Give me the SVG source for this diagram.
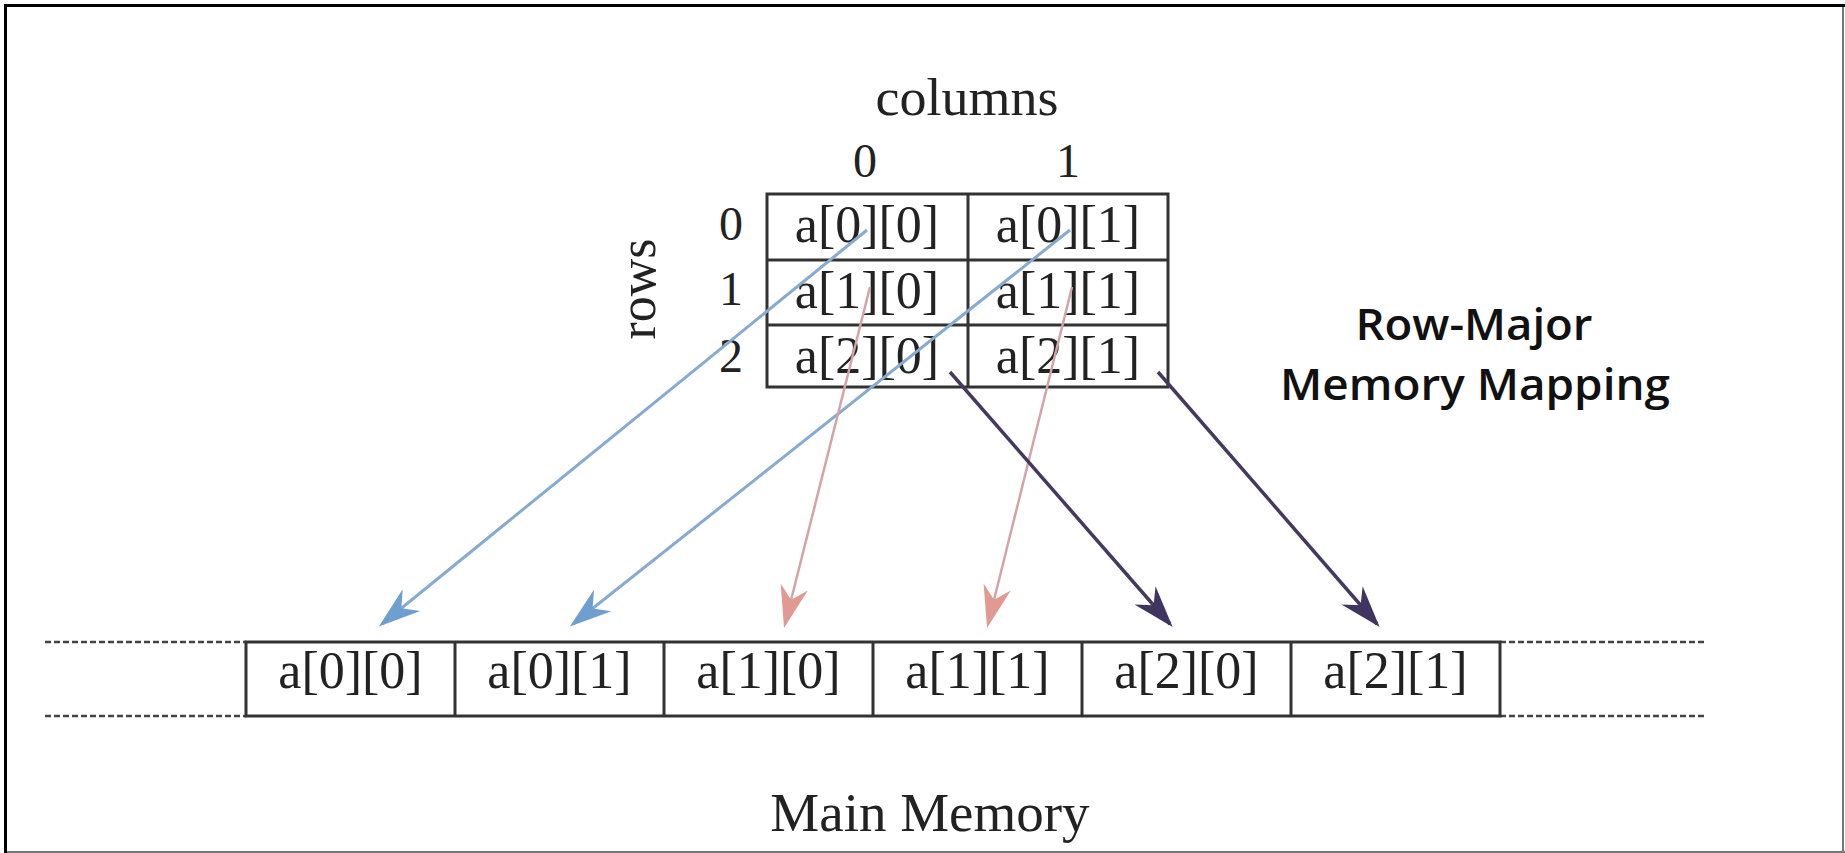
<svg xmlns="http://www.w3.org/2000/svg" width="1845" height="853" viewBox="0 0 1845 853">
<style>
.serif{font-family:"Liberation Serif","Times New Roman",serif;fill:#222;text-anchor:middle}
.cell{font-size:52px}
.hdr{font-size:48px}
.bold{font-family:"Open Sans","Liberation Sans",sans-serif;font-weight:600;font-size:43px;fill:#111;text-anchor:middle}
.grid{fill:none;stroke:#333;stroke-width:3}
.dash{stroke:#444;stroke-width:2.5;stroke-dasharray:6 3}
.blue{stroke:#86aad0;stroke-width:3;fill:none}
.pink{stroke:#d4a3a8;stroke-width:2.5;fill:none}
.purple{stroke:#45395f;stroke-width:3.5;fill:none}
</style>
<defs>
<marker id="mBlue" markerUnits="userSpaceOnUse" markerWidth="42" markerHeight="32" viewBox="0 0 42 32" refX="38" refY="16" orient="auto"><path d="M0,2 L42,16 L0,30 L13,16 Z" fill="#6f9fd0"/></marker>
<marker id="mPink" markerUnits="userSpaceOnUse" markerWidth="42" markerHeight="32" viewBox="0 0 42 32" refX="38" refY="16" orient="auto"><path d="M0,2 L42,16 L0,30 L13,16 Z" fill="#e09a92"/></marker>
<marker id="mPurple" markerUnits="userSpaceOnUse" markerWidth="42" markerHeight="32" viewBox="0 0 42 32" refX="38" refY="16" orient="auto"><path d="M0,2 L42,16 L0,30 L13,16 Z" fill="#3f3560"/></marker>
</defs>
<rect width="1845" height="853" fill="#fff"/>
<g id="frame">
<line x1="4" y1="5.5" x2="1845" y2="5.5" stroke="#000" stroke-width="3"/>
<line x1="5.5" y1="4" x2="5.5" y2="853" stroke="#000" stroke-width="3"/>
<line x1="1843" y1="7" x2="1843" y2="853" stroke="#777" stroke-width="2"/>
<line x1="7" y1="852" x2="1845" y2="852" stroke="#777" stroke-width="2"/>
</g>
<g id="labels">
<text class="serif" x="967" y="115" font-size="52" textLength="183" lengthAdjust="spacingAndGlyphs">columns</text>
<text class="serif hdr" x="865" y="177">0</text>
<text class="serif hdr" x="1068" y="177">1</text>
<text class="serif hdr" x="731" y="240">0</text>
<text class="serif hdr" x="731" y="305">1</text>
<text class="serif hdr" x="731" y="372">2</text>
<text class="serif" font-size="52" transform="translate(655,289) rotate(-90)">rows</text>
<text class="bold" x="1474" y="340" textLength="237" lengthAdjust="spacingAndGlyphs">Row-Major</text>
<text class="bold" x="1475" y="400" textLength="390" lengthAdjust="spacingAndGlyphs">Memory Mapping</text>
<text class="serif" x="930" y="831" font-size="55">Main Memory</text>
</g>
<g id="matrix">
<rect class="grid" x="767" y="194" width="401" height="193"/>
<line class="grid" x1="968" y1="194" x2="968" y2="387"/>
<line class="grid" x1="767" y1="260" x2="1168" y2="260"/>
<line class="grid" x1="767" y1="325" x2="1168" y2="325"/>
<g id="m00"><text class="serif cell" x="867" y="242">a[0][0]</text></g>
<g id="m01"><text class="serif cell" x="1068" y="242">a[0][1]</text></g>
<g id="m10"><text class="serif cell" x="867" y="308">a[1][0]</text></g>
<g id="m11"><text class="serif cell" x="1068" y="308">a[1][1]</text></g>
<g id="m20"><text class="serif cell" x="867" y="373">a[2][0]</text></g>
<g id="m21"><text class="serif cell" x="1068" y="373">a[2][1]</text></g>
</g>
<g id="memory">
<line class="dash" x1="45" y1="642" x2="246" y2="642"/>
<line class="dash" x1="45" y1="716" x2="246" y2="716"/>
<line class="dash" x1="1500" y1="642" x2="1706" y2="642"/>
<line class="dash" x1="1500" y1="716" x2="1706" y2="716"/>
<rect class="grid" x="246" y="642" width="1254" height="74" stroke-width="3.5"/>
<line class="grid" x1="455" y1="642" x2="455" y2="716"/>
<line class="grid" x1="664" y1="642" x2="664" y2="716"/>
<line class="grid" x1="873" y1="642" x2="873" y2="716"/>
<line class="grid" x1="1082" y1="642" x2="1082" y2="716"/>
<line class="grid" x1="1291" y1="642" x2="1291" y2="716"/>
<g id="c0"><text class="serif cell" x="350.5" y="688">a[0][0]</text></g>
<g id="c1"><text class="serif cell" x="559.5" y="688">a[0][1]</text></g>
<g id="c2"><text class="serif cell" x="768.5" y="688">a[1][0]</text></g>
<g id="c3"><text class="serif cell" x="977.5" y="688">a[1][1]</text></g>
<g id="c4"><text class="serif cell" x="1186.5" y="688">a[2][0]</text></g>
<g id="c5"><text class="serif cell" x="1395.5" y="688">a[2][1]</text></g>
</g>
<g id="connectors">
<line class="blue" x1="867" y1="230" x2="382" y2="624" marker-end="url(#mBlue)"/>
<line class="blue" x1="1070" y1="230" x2="573" y2="624" marker-end="url(#mBlue)"/>
<line class="pink" x1="870" y1="287" x2="785" y2="624" marker-end="url(#mPink)"/>
<line class="pink" x1="1072" y1="287" x2="988" y2="624" marker-end="url(#mPink)"/>
<line class="purple" x1="950" y1="372" x2="1170" y2="624" marker-end="url(#mPurple)"/>
<line class="purple" x1="1158" y1="372" x2="1377" y2="624" marker-end="url(#mPurple)"/>
</g>
</svg>
